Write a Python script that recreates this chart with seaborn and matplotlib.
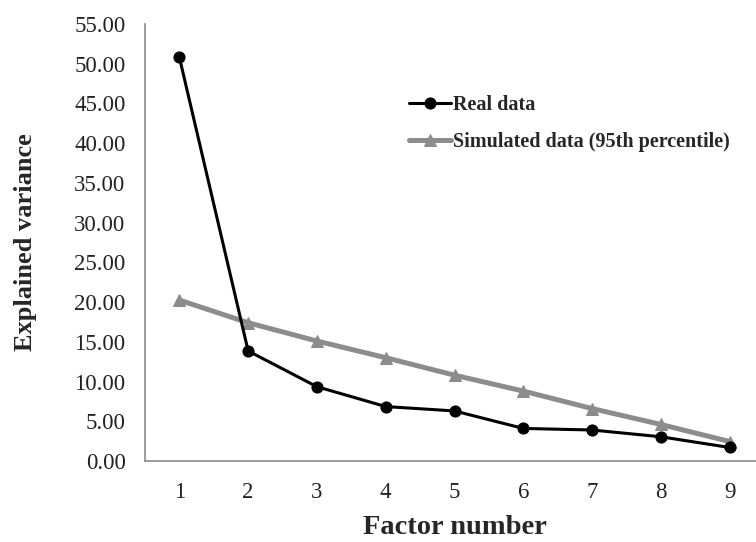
import numpy as np
import pandas as pd
import matplotlib
matplotlib.use('Agg')
import matplotlib.pyplot as plt
import seaborn as sns

# 数据
factors = [1, 2, 3, 4, 5, 6, 7, 8, 9]
real_data = [50.8, 13.85, 9.35, 6.85, 6.3, 4.1, 3.9, 3.05, 1.7]
simulated_data = [20.25, 17.4, 15.1, 13.0, 10.8, 8.8, 6.6, 4.6, 2.45]
y_ticks = [0, 5, 10, 15, 20, 25, 30, 35, 40, 45, 50, 55]

sns.set_style('white')
plt.rcParams['font.family'] = ['Liberation Serif', 'DejaVu Serif']

df = pd.DataFrame({'factor': factors, 'real': real_data, 'sim': simulated_data})

fig = plt.figure(figsize=(7.56, 5.42), dpi=100)
ax = fig.add_axes([145 / 756, 81 / 542, 619 / 756, 437 / 542])

sns.lineplot(data=df, x='factor', y='sim', ax=ax, color='#8c8c8c', linewidth=3.6,
             marker='^', markersize=9, markeredgecolor='#8c8c8c',
             label='Simulated data (95th percentile)')
sns.lineplot(data=df, x='factor', y='real', ax=ax, color='black', linewidth=2.2,
             marker='o', markersize=8, markeredgecolor='black',
             label='Real data')

ax.set_xlim(0.5, 9.5)
ax.set_ylim(0, 55)
ax.set_xticks(factors)
ax.set_yticks(y_ticks)
ax.set_yticklabels([f'{v:.2f}' for v in y_ticks])
ax.tick_params(axis='both', length=0, labelsize=16.5, colors='#222222')
ax.tick_params(axis='y', pad=14)
ax.tick_params(axis='x', pad=15)

for side in ['top', 'right']:
    ax.spines[side].set_visible(False)
for side in ['left', 'bottom']:
    ax.spines[side].set_color('#8a8a8a')
    ax.spines[side].set_linewidth(1.2)

ax.set_xlabel('Factor number', fontsize=20.5, fontweight='bold', labelpad=9)
ax.set_ylabel('Explained variance', fontsize=19, fontweight='bold', labelpad=27)

handles, labels = ax.get_legend_handles_labels()
leg = ax.legend(handles[::-1], labels[::-1], loc='upper left',
                bbox_to_anchor=(391 / 756, 1 - 77 / 542), bbox_transform=fig.transFigure,
                frameon=False, prop={'weight': 'bold', 'size': 14.5},
                handlelength=2.1, handletextpad=0.1, labelspacing=0.85)

fig.savefig('out.png', dpi=100)
